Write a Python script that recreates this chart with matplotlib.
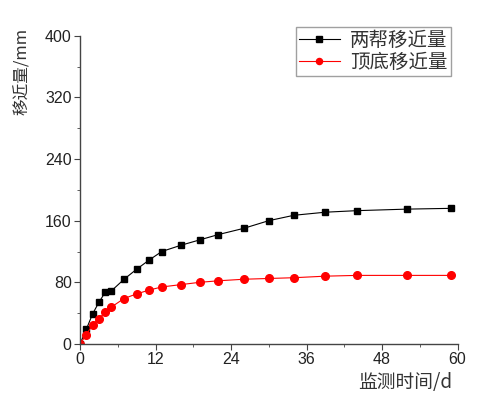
import matplotlib.pyplot as plt
from matplotlib.ticker import MultipleLocator

plt.rcParams['font.family'] = ['Liberation Sans', 'Noto Sans CJK SC', 'DejaVu Sans']

# monitoring days
days = [0, 1, 2, 3, 4, 5, 7, 9, 11, 13, 16, 19, 22, 26, 30, 34, 39, 44, 52, 59]
# two sides convergence (mm)
sides = [0, 19, 39, 54, 67, 69, 84, 97, 109, 120, 128, 135, 142, 150, 160, 167, 171, 173, 175, 176]
# roof-floor convergence (mm)
roof = [0, 12, 25, 33, 41, 48, 59, 65, 70, 74, 77, 80, 82, 84, 85, 86, 88, 89, 89, 89]

label_sides = '两帮移近量'
label_roof = '顶底移近量'

fig = plt.figure(figsize=(4.92, 3.98), dpi=100)
ax = fig.add_axes([0.1626, 0.1357, 0.7673, 0.7746])

ax.plot(days, sides, color='black', lw=0.8, marker='s', ms=5, label=label_sides)
ax.plot(days, roof, color='red', lw=0.8, marker='o', ms=5.5, label=label_roof)

ax.set_xlim(0, 60)
ax.set_ylim(0, 400)
ax.xaxis.set_major_locator(MultipleLocator(12))
ax.xaxis.set_minor_locator(MultipleLocator(6))
ax.yaxis.set_major_locator(MultipleLocator(80))
ax.yaxis.set_minor_locator(MultipleLocator(40))

for s in ['top', 'right']:
    ax.spines[s].set_visible(False)
for s in ['left', 'bottom']:
    ax.spines[s].set_color('#444444')
    ax.spines[s].set_linewidth(1.0)
ax.tick_params(which='major', length=4, color='#444444', labelsize=11.5, labelcolor='#222222', pad=2)
ax.tick_params(which='minor', length=2.5, color='#444444')

fig.text(0.919, 0.013, '监测时间/d', ha='right', va='bottom', fontsize=13.5,
         color='#333333', family=['Noto Sans CJK SC', 'DejaVu Sans'])
fig.text(0.045, 0.93, '移近量/mm', ha='center', va='top', rotation=90, fontsize=12,
         color='#333333', family=['Noto Sans CJK SC', 'DejaVu Sans'])

leg = ax.legend(loc='upper right', bbox_to_anchor=(0.982, 1.029), frameon=True, fancybox=False,
                edgecolor='#888888', labelspacing=0.05, handlelength=2.1,
                handletextpad=0.55, borderpad=0.15, borderaxespad=0, markerscale=0.8,
                prop={'family': ['Noto Sans CJK SC', 'DejaVu Sans'], 'size': 14})
for t in leg.get_texts():
    t.set_color('#333333')

fig.savefig('out.png', dpi=100)
